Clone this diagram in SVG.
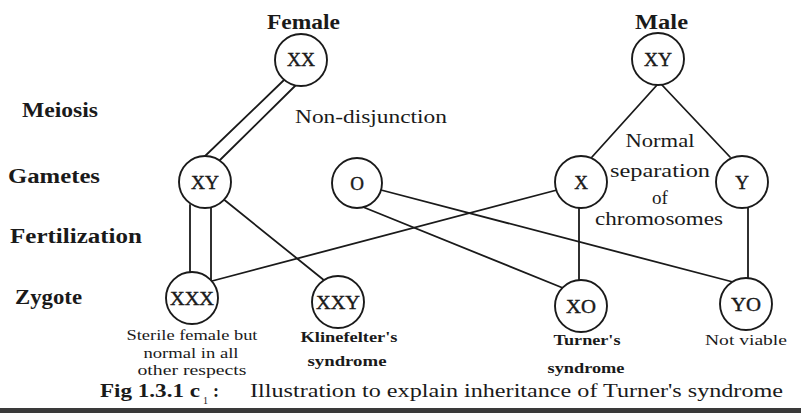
<svg xmlns="http://www.w3.org/2000/svg" width="801" height="416" viewBox="0 0 801 416">
<style>
  .bg{fill:#ffffff}
  .c{fill:#ffffff;stroke:#1a1a1a;stroke-width:1.9}
  .ln{stroke:#1a1a1a;stroke-width:1.8;fill:none;stroke-linecap:round}
  text{font-family:"Liberation Serif","Times New Roman",serif;fill:#1a1a1a}
  .hd{font-size:20px;font-weight:bold}
  .row{font-size:20px;font-weight:bold}
  .nt{font-size:19px;text-anchor:middle;stroke:#1a1a1a;stroke-width:0.4}
  .note{font-size:19px;text-anchor:middle}
  .sm{font-size:14px;text-anchor:middle}
  .smb{font-size:14px;font-weight:bold;text-anchor:middle}
  .cap{font-size:18px}
</style>
<rect class="bg" x="0" y="0" width="801" height="416"/>

<g id="row-labels">
  <text class="row" x="22" y="117" textLength="76" lengthAdjust="spacingAndGlyphs">Meiosis</text>
  <text class="row" x="8" y="183" textLength="92" lengthAdjust="spacingAndGlyphs">Gametes</text>
  <text class="row" x="10" y="243" textLength="132" lengthAdjust="spacingAndGlyphs">Fertilization</text>
  <text class="row" x="15" y="304" textLength="67" lengthAdjust="spacingAndGlyphs">Zygote</text>
</g>

<g id="connectors">
  <line class="ln" x1="284" y1="80" x2="203" y2="158"/>
  <line class="ln" x1="296" y1="85" x2="220" y2="160"/>
  <line class="ln" x1="657" y1="85" x2="592" y2="157"/>
  <line class="ln" x1="662" y1="85" x2="730" y2="157"/>
  <line class="ln" x1="190" y1="205" x2="190" y2="275"/>
  <line class="ln" x1="211" y1="202" x2="211" y2="283"/>
  <line class="ln" x1="222" y1="198" x2="325" y2="281"/>
  <line class="ln" x1="557" y1="190" x2="212" y2="281"/>
  <line class="ln" x1="381" y1="190" x2="733" y2="282"/>
  <line class="ln" x1="363" y1="207" x2="563" y2="288"/>
  <line class="ln" x1="579" y1="206" x2="579" y2="282"/>
  <line class="ln" x1="748" y1="205" x2="748" y2="280"/>
</g>

<g id="female">
  <text class="hd" x="267" y="29" textLength="73" lengthAdjust="spacingAndGlyphs">Female</text>
  <circle class="c" cx="301" cy="60" r="26"/>
  <text class="nt" x="301" y="66" textLength="28" lengthAdjust="spacingAndGlyphs">XX</text>
</g>
<g id="male">
  <text class="hd" x="635" y="29" textLength="53" lengthAdjust="spacingAndGlyphs">Male</text>
  <circle class="c" cx="658" cy="59" r="26"/>
  <text class="nt" x="658" y="66" textLength="28" lengthAdjust="spacingAndGlyphs">XY</text>
</g>
<g id="gamete-XY">
  <circle class="c" cx="205" cy="182" r="26"/>
  <text class="nt" x="205" y="189" textLength="28" lengthAdjust="spacingAndGlyphs">XY</text>
</g>
<g id="gamete-O">
  <circle class="c" cx="357" cy="183" r="25"/>
  <text class="nt" x="357" y="190">O</text>
</g>
<g id="gamete-X">
  <circle class="c" cx="581" cy="182" r="26"/>
  <text class="nt" x="581" y="189">X</text>
</g>
<g id="gamete-Y">
  <circle class="c" cx="742" cy="182" r="26"/>
  <text class="nt" x="742" y="189">Y</text>
</g>

<g id="zygote-XXX">
  <circle class="c" cx="192" cy="298" r="26"/>
  <text class="nt" x="192" y="305" textLength="44" lengthAdjust="spacingAndGlyphs">XXX</text>
  <text class="sm" x="192" y="340" textLength="131" lengthAdjust="spacingAndGlyphs">Sterile female but</text>
  <text class="sm" x="191" y="358" textLength="95" lengthAdjust="spacingAndGlyphs">normal in all</text>
  <text class="sm" x="192" y="375" textLength="109" lengthAdjust="spacingAndGlyphs">other respects</text>
</g>
<g id="zygote-XXY">
  <circle class="c" cx="338" cy="302" r="26"/>
  <text class="nt" x="338" y="309" textLength="44" lengthAdjust="spacingAndGlyphs">XXY</text>
  <text class="smb" x="349" y="342" textLength="97" lengthAdjust="spacingAndGlyphs">Klinefelter's</text>
  <text class="smb" x="347" y="366" textLength="79" lengthAdjust="spacingAndGlyphs">syndrome</text>
</g>
<g id="zygote-XO">
  <circle class="c" cx="581" cy="306" r="26"/>
  <text class="nt" x="581" y="313" textLength="30" lengthAdjust="spacingAndGlyphs">XO</text>
  <text class="smb" x="587" y="345" textLength="67" lengthAdjust="spacingAndGlyphs">Turner's</text>
  <text class="smb" x="586" y="373" textLength="77" lengthAdjust="spacingAndGlyphs">syndrome</text>
</g>
<g id="zygote-YO">
  <circle class="c" cx="746" cy="304" r="26"/>
  <text class="nt" x="746" y="311" textLength="30" lengthAdjust="spacingAndGlyphs">YO</text>
  <text class="sm" x="746" y="345" textLength="82" lengthAdjust="spacingAndGlyphs">Not viable</text>
</g>

<g id="annotations">
  <text class="note" x="371" y="123" textLength="152" lengthAdjust="spacingAndGlyphs">Non-disjunction</text>
  <text class="note" x="660" y="147" textLength="69" lengthAdjust="spacingAndGlyphs">Normal</text>
  <text class="note" x="660" y="177" textLength="100" lengthAdjust="spacingAndGlyphs">separation</text>
  <text class="note" x="660" y="204">of</text>
  <text class="note" x="659" y="225" textLength="128" lengthAdjust="spacingAndGlyphs">chromosomes</text>
</g>

<g id="caption">
  <text class="cap" x="100" y="397" font-weight="bold" textLength="100" lengthAdjust="spacingAndGlyphs">Fig 1.3.1 c</text>
  <text x="203" y="404" font-size="10">1</text>
  <text class="cap" x="213" y="397" font-weight="bold">:</text>
  <text class="cap" x="250" y="397" textLength="533" lengthAdjust="spacingAndGlyphs">Illustration to explain inheritance of Turner's syndrome</text>
  <rect x="0" y="408" width="801" height="5" fill="#3a3a3a"/>
</g>
</svg>
